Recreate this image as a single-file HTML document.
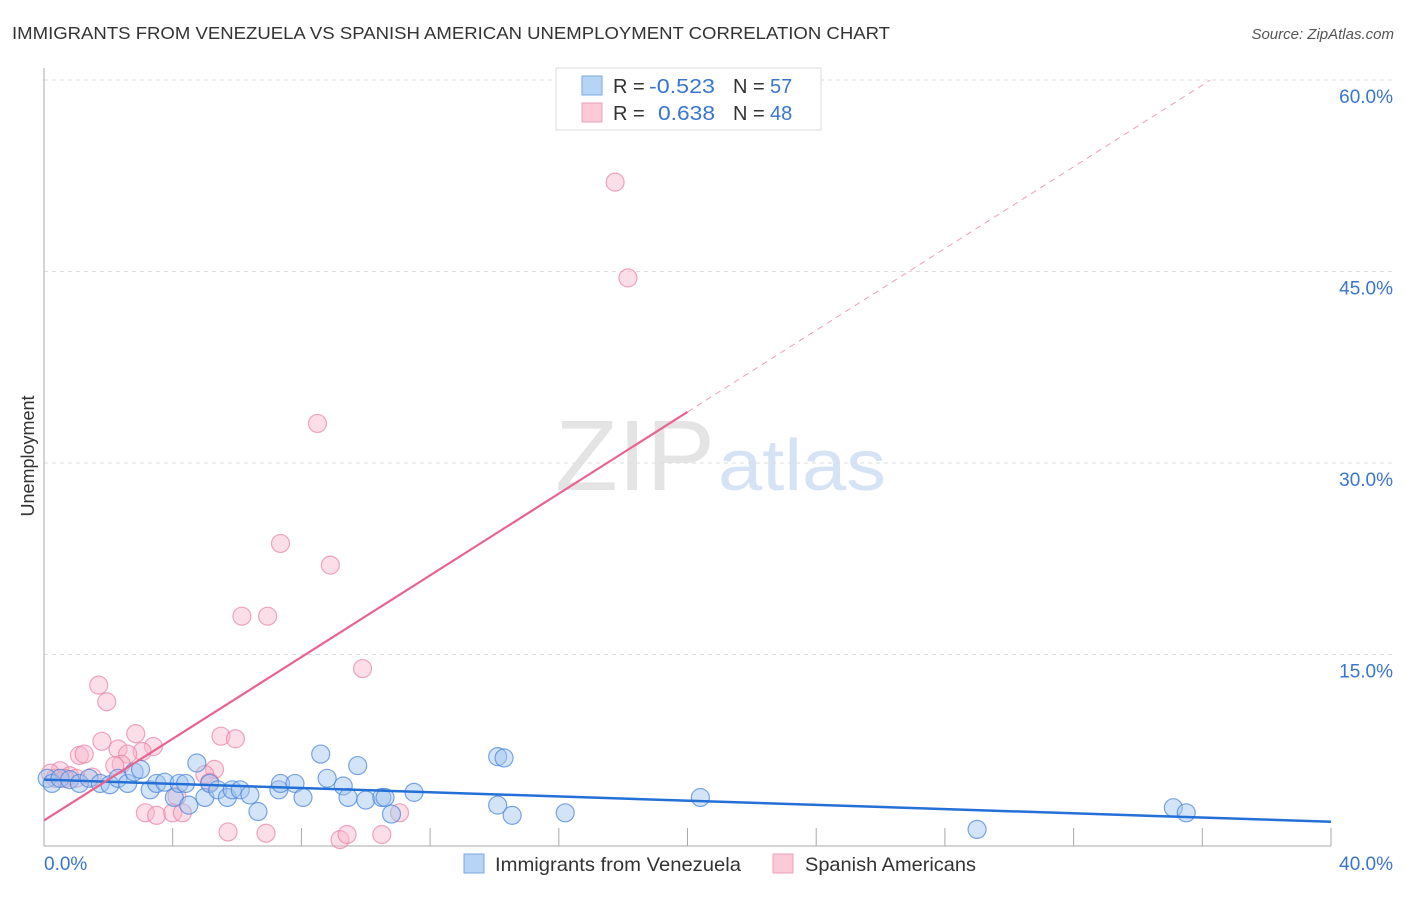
<!DOCTYPE html>
<html><head><meta charset="utf-8"><style>
body{margin:0;background:#fff;font-family:"Liberation Sans",sans-serif}
svg text{font-family:"Liberation Sans",sans-serif}
</style></head><body>
<svg id="c" width="1406" height="892">
<text x="12" y="39" font-size="17.5" fill="#333" textLength="878" lengthAdjust="spacingAndGlyphs">IMMIGRANTS FROM VENEZUELA VS SPANISH AMERICAN UNEMPLOYMENT CORRELATION CHART</text>
<text x="1394" y="39" font-size="15" fill="#555" font-style="italic" text-anchor="end">Source: ZipAtlas.com</text>
<text x="555" y="490" font-size="100" fill="#e4e4e4" textLength="160" lengthAdjust="spacingAndGlyphs" font-family="Liberation Serif">ZIP</text>
<text x="718" y="490" font-size="72" fill="#d5e3f5" textLength="168" lengthAdjust="spacingAndGlyphs">atlas</text>
<text transform="translate(34,456) rotate(-90)" font-size="18" fill="#333" text-anchor="middle">Unemployment</text>
<g id="grid"></g><g id="pts"></g><g id="lines"></g>
<g>
<rect x="556" y="68" width="265" height="62" fill="#fff" stroke="#ddd"/>
<rect x="582" y="76" width="20" height="19" fill="#b8d4f5" stroke="#7aa8e0"/>
<rect x="582" y="103" width="20" height="19" fill="#fbc9d8" stroke="#eea0b8"/>
<text x="613" y="93" font-size="20" fill="#333">R = <tspan fill="#3a75d0" x="649" textLength="66" lengthAdjust="spacingAndGlyphs">-0.523</tspan></text>
<text x="733" y="93" font-size="20" fill="#333">N = <tspan fill="#3a75d0" x="770">57</tspan></text>
<text x="613" y="120" font-size="20" fill="#333">R = <tspan fill="#3a75d0" x="658" textLength="57" lengthAdjust="spacingAndGlyphs">0.638</tspan></text>
<text x="733" y="120" font-size="20" fill="#333">N = <tspan fill="#3a75d0" x="770">48</tspan></text>
</g>
<g>
<rect x="464" y="854" width="20" height="19" fill="#b8d4f5" stroke="#7aa8e0"/>
<text x="495" y="871" font-size="19.5" fill="#333" textLength="246" lengthAdjust="spacingAndGlyphs">Immigrants from Venezuela</text>
<rect x="773" y="854" width="20" height="19" fill="#fbc9d8" stroke="#eea0b8"/>
<text x="805" y="871" font-size="19.5" fill="#333" textLength="171" lengthAdjust="spacingAndGlyphs">Spanish Americans</text>
</g>
</svg>
<script>
const xTicks=[0,40];
const yTicks=[15,30,45,60];
const blueX=[0.1,0.25,0.5,0.8,1.1,1.4,1.75,2.05,2.3,2.6,2.8,3.0,3.3,3.5,3.75,4.05,4.2,4.4,4.5,4.75,5.0,5.15,5.4,5.7,5.85,6.1,6.4,6.65,7.3,7.35,7.8,8.05,8.6,8.8,9.3,9.45,9.75,10.0,10.5,10.6,10.8,11.5,14.1,14.3,14.1,14.55,16.2,20.4,29.0,35.1,35.5];
const blueY=[5.3,4.9,5.3,5.2,4.9,5.3,4.9,4.8,5.3,4.9,5.8,6.0,4.4,4.9,5.0,3.8,4.9,4.9,3.2,6.5,3.8,4.9,4.4,3.8,4.4,4.4,4.0,2.7,4.4,4.9,4.9,3.8,7.2,5.3,4.7,3.8,6.3,3.6,3.8,3.8,2.5,4.2,7.0,6.9,3.2,2.4,2.6,3.8,1.3,3.0,2.6];
const pinkX=[17.75,18.15,8.5,7.35,8.9,6.15,6.95,9.9,1.7,1.95,2.85,5.5,5.95,3.4,3.05,1.1,1.25,2.3,2.6,1.8,2.4,2.2,5.3,5.0,5.15,0.5,0.8,1.0,0.2,1.5,3.15,3.5,4.0,4.3,4.13,5.72,6.9,9.2,9.42,10.5,11.05,0.35,0.65];
const pinkY=[52.0,44.5,33.1,23.7,22.0,18.0,18.0,13.9,12.6,11.3,8.8,8.6,8.4,7.8,7.4,7.1,7.2,7.6,7.2,8.2,6.4,6.3,6.0,5.6,5.0,5.9,5.5,5.3,5.7,5.4,2.6,2.4,2.6,2.6,3.9,1.1,1.0,0.5,0.9,0.9,2.6,5.3,5.3];
const blueTrend=[5.2,1.9];
const pinkTrend=[2.0,34.0,60.0];
const X=v=>44+v/40*1287, Y=v=>846-v/15*191.5;
const NS='http://www.w3.org/2000/svg';
function mk(t,a,p){const e=document.createElementNS(NS,t);for(const k in a)e.setAttribute(k,a[k]);p.appendChild(e);return e;}
const grid=document.getElementById('grid');
yTicks.forEach(v=>{
 const l=mk('line',{x1:44,x2:1394,y1:Y(v),y2:Y(v),stroke:'#ddd','stroke-dasharray':'4,4'},grid);
 
 
 const t=mk('text',{x:1393,y:Y(v)+23,'font-size':19,fill:'#3a75d0','text-anchor':'end'},grid);
 t.textContent=v.toFixed(1)+'%';
 
 
});
mk('line',{x1:44,x2:44,y1:68,y2:846,stroke:'#aaa'},grid);
mk('line',{x1:44,x2:1331,y1:846,y2:846,stroke:'#aaa'},grid);
for(let i=1;i<=10;i++){mk('line',{x1:X(i*4),x2:X(i*4),y1:828,y2:846,stroke:'#aaa'},grid);}
xTicks.forEach((v,i)=>{
 const t=mk('text',{x:i?1393:44,y:870,'font-size':19,fill:'#3a75d0','text-anchor':i?'end':'start'},grid);
 t.textContent=v.toFixed(1)+'%';
 
 
});
const pts=document.getElementById('pts');
pinkX.forEach((x,i)=>{
 const c=mk('circle',{cx:X(x),cy:Y(pinkY[i]),r:9,fill:'rgba(248,182,203,0.45)',stroke:'rgba(232,130,162,0.7)','stroke-width':1.2},pts);
 
 
});
blueX.forEach((x,i)=>{
 const c=mk('circle',{cx:X(x),cy:Y(blueY[i]),r:9,fill:'rgba(160,196,240,0.45)',stroke:'rgba(70,130,215,0.7)','stroke-width':1.2},pts);
 
 
});
const ln=document.getElementById('lines');
const bl=mk('line',{x1:X(0),y1:Y(blueTrend[0]),x2:X(40),y2:Y(blueTrend[1]),stroke:'#2470d6','stroke-width':2.5},ln);


const slope=(pinkTrend[1]-pinkTrend[0])/20;
const xe=(pinkTrend[2]-pinkTrend[0])/slope;
const pl=mk('line',{x1:X(0),y1:Y(pinkTrend[0]),x2:X(20),y2:Y(pinkTrend[1]),stroke:'#e8648e','stroke-width':2.2},ln);


const pd=mk('line',{x1:X(20),y1:Y(pinkTrend[1]),x2:X(xe),y2:Y(pinkTrend[2]),stroke:'#eaa0b8','stroke-width':1,'stroke-dasharray':'6,5'},ln);


</script>
</body></html>
